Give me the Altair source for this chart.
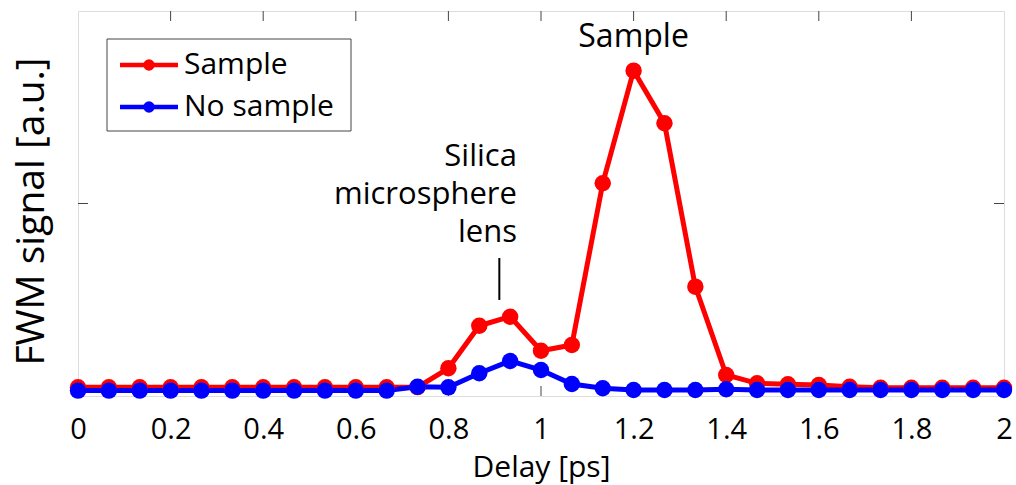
import altair as alt
import pandas as pd

# ---- data ----
delay = [i / 15 for i in range(31)]
sample = [0.045, 0.045, 0.045, 0.045, 0.045, 0.045, 0.045, 0.045, 0.045, 0.045,
          0.045, 0.046, 0.144, 0.365, 0.412, 0.235, 0.265, 1.105, 1.69, 1.417,
          0.568, 0.109, 0.066, 0.061, 0.057, 0.048, 0.043, 0.043, 0.043, 0.043, 0.043]
no_sample = [0.028, 0.028, 0.028, 0.028, 0.028, 0.028, 0.028, 0.028, 0.028, 0.028,
             0.028, 0.048, 0.045, 0.118, 0.182, 0.135, 0.062, 0.040, 0.031, 0.031,
             0.031, 0.035, 0.031, 0.031, 0.031, 0.031, 0.031, 0.031, 0.031, 0.031, 0.031]
series_names = ["Sample", "No sample"]
series_colors = ["#ff0000", "#0000ff"]
x_ticks = [0, 0.2, 0.4, 0.6, 0.8, 1, 1.2, 1.4, 1.6, 1.8, 2]
y_ticks = [1]

W, H = 926, 385
FONT = "Open Sans"
FRAME = "#444444"

rows = []
for name, vals in zip(series_names, [sample, no_sample]):
    for d, v in zip(delay, vals):
        rows.append({"delay": d, "signal": v, "series": name})
df = pd.DataFrame(rows)

xs = alt.Scale(domain=[0, 2], nice=False)
ys = alt.Scale(domain=[0, 2], nice=False)
cs = alt.Scale(domain=series_names, range=series_colors)

base = alt.Chart(df)

lines = base.mark_line(strokeWidth=5, clip=True).encode(
    x=alt.X("delay:Q", scale=xs,
            axis=alt.Axis(values=x_ticks, format="~g", title="Delay [ps]", tickSize=0,
                          domain=False, grid=False, labelFontSize=29, titleFontSize=30,
                          labelPadding=19, titlePadding=8, labelFont=FONT, titleFont=FONT,
                          labelColor="black", titleColor="black", titleFontWeight="normal",
                          labelFlush=False)),
    y=alt.Y("signal:Q", scale=ys,
            axis=alt.Axis(values=y_ticks, labels=False, title="FWM signal [a.u.]", tickSize=0,
                          domain=False, grid=False, titleFontSize=39, titleFont=FONT,
                          titleColor="black", titleFontWeight="normal",
                          titleX=-27, titleY=200, titleBaseline="bottom", titleAlign="center",
                          titleAngle=270)),
    color=alt.Color("series:N", scale=cs, legend=None),
    order=alt.Order("series:N", sort="descending"),
)
points = base.mark_circle(size=270, opacity=1).encode(
    x=alt.X("delay:Q", scale=xs),
    y=alt.Y("signal:Q", scale=ys),
    color=alt.Color("series:N", scale=cs, legend=None),
    order=alt.Order("series:N", sort="descending"),
)

# inward ticks
tick_df = pd.DataFrame({"t": x_ticks[1:-1]})
xt_bottom = alt.Chart(tick_df).mark_rule(color=FRAME, strokeWidth=1).encode(
    x=alt.X("t:Q", scale=xs), y=alt.value(H), y2=alt.value(H - 10))
xt_top = alt.Chart(tick_df).mark_rule(color=FRAME, strokeWidth=1).encode(
    x=alt.X("t:Q", scale=xs), y=alt.value(0), y2=alt.value(10))
ytick_df = pd.DataFrame({"t": y_ticks})
yt_left = alt.Chart(ytick_df).mark_rule(color=FRAME, strokeWidth=1).encode(
    y=alt.Y("t:Q", scale=ys), x=alt.value(0), x2=alt.value(10))
yt_right = alt.Chart(ytick_df).mark_rule(color=FRAME, strokeWidth=1).encode(
    y=alt.Y("t:Q", scale=ys), x=alt.value(W - 10), x2=alt.value(W))

# annotations
ann_sample = alt.Chart(pd.DataFrame({"x": [1.2], "label": ["Sample"]})).mark_text(
    fontSize=32, font=FONT, color="black", baseline="middle", align="center").encode(
    x=alt.X("x:Q", scale=xs), y=alt.value(26), text="label:N")
ann_silica = alt.Chart(pd.DataFrame({"x": [0.948], "label": ["Silica\nmicrosphere\nlens"]})).mark_text(
    fontSize=31, font=FONT, color="black", baseline="middle", align="right",
    lineBreak="\n", lineHeight=38).encode(
    x=alt.X("x:Q", scale=xs), y=alt.value(146), text="label:N")
ann_line = alt.Chart(pd.DataFrame({"x": [0.91], "y1": [0.717], "y2": [0.499]})).mark_rule(
    color="black", strokeWidth=2).encode(
    x=alt.X("x:Q", scale=xs), y=alt.Y("y1:Q", scale=ys), y2="y2:Q")

# manual legend
leg_box = alt.Chart(pd.DataFrame({"a": [0]})).mark_rect(
    fill="white", stroke=FRAME, strokeWidth=1).encode(
    x=alt.value(29), x2=alt.value(273), y=alt.value(28), y2=alt.value(120))
leg_df = pd.DataFrame({"series": series_names, "ypix": [54, 96]})
leg_lines = alt.Chart(leg_df).mark_rule(strokeWidth=4.5).encode(
    x=alt.value(42), x2=alt.value(100), y=alt.Y("ypix:Q", scale=None),
    color=alt.Color("series:N", scale=cs, legend=None))
leg_pts = alt.Chart(leg_df).mark_circle(size=130, opacity=1).encode(
    x=alt.value(71), y=alt.Y("ypix:Q", scale=None),
    color=alt.Color("series:N", scale=cs, legend=None))
leg_txt = alt.Chart(leg_df).mark_text(
    fontSize=30, font=FONT, color="black", align="left", baseline="middle").encode(
    x=alt.value(106), y=alt.Y("ypix:Q", scale=None), text="series:N")

chart = alt.layer(
    xt_bottom, xt_top, yt_left, yt_right,
    lines, points, ann_sample, ann_silica, ann_line,
    leg_box, leg_lines, leg_pts, leg_txt,
).properties(
    width=W, height=H,
    autosize=alt.AutoSizeParams(type="none"),
    padding={"left": 78, "top": 11, "right": 12, "bottom": 89},
).configure_view(
    stroke=FRAME, strokeWidth=1.5
).configure(background="white")

chart.save("out.html", embed_options={"renderer": "svg", "actions": False})
